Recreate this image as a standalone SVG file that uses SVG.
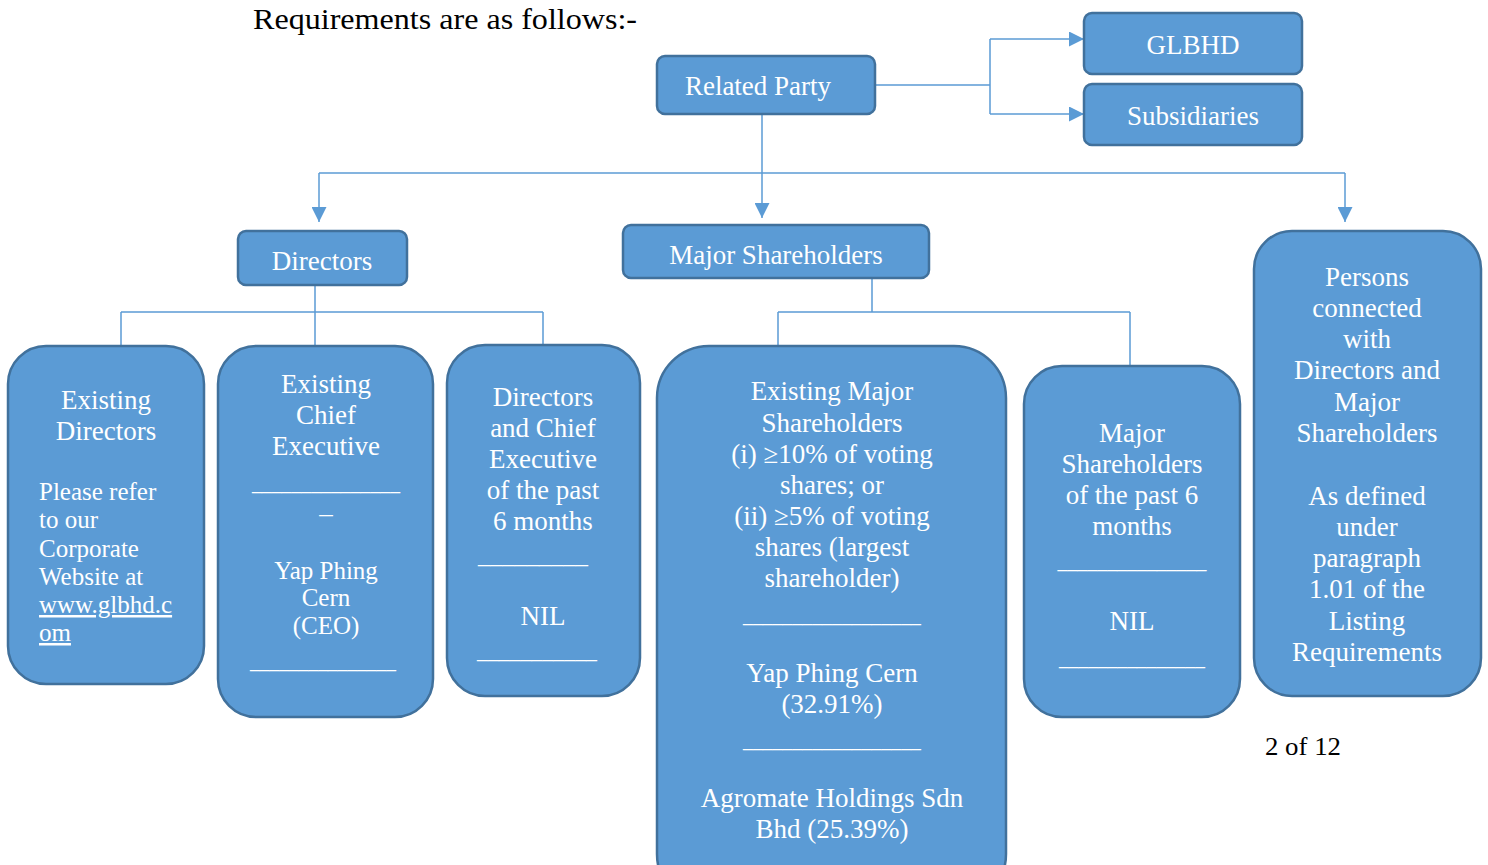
<svg xmlns="http://www.w3.org/2000/svg" width="1488" height="865" viewBox="0 0 1488 865">
<defs>
<marker id="arrB" viewBox="0 0 10 10" refX="10" refY="5" markerWidth="15" markerHeight="15" markerUnits="userSpaceOnUse" orient="auto">
<path d="M0,0 L10,5 L0,10 Z" fill="#5B9BD5"/>
</marker>
</defs>
<style>
.box{fill:#5B9BD5;stroke:#41719C;stroke-width:2.5}
.t{font-family:"Liberation Serif","Times New Roman",serif;font-size:27px;fill:#FFFFFF;text-anchor:middle}
.m{font-family:"Liberation Serif","Times New Roman",serif;font-size:25px;fill:#FFFFFF;text-anchor:middle}
.s{font-family:"Liberation Serif","Times New Roman",serif;font-size:25px;fill:#FFFFFF}
.k{font-family:"Liberation Serif","Times New Roman",serif;fill:#000000}
.c{fill:none;stroke:#5B9BD5;stroke-width:1.5}
</style>
<rect width="1488" height="865" fill="#FFFFFF"/>
<text class="k" x="253" y="29" font-size="30" textLength="384" lengthAdjust="spacingAndGlyphs">Requirements are as follows:-</text>
<text class="k" x="1265" y="755" font-size="26" textLength="76" lengthAdjust="spacingAndGlyphs">2 of 12</text>

<g id="connectors">
<path class="c" d="M875,85 H990 M990,39 V114"/>
<path class="c" d="M990,39 H1084" marker-end="url(#arrB)"/>
<path class="c" d="M990,114 H1084" marker-end="url(#arrB)"/>
<path class="c" d="M762,114 V218" marker-end="url(#arrB)"/>
<path class="c" d="M319,173 H1345"/>
<path class="c" d="M319,173 V222" marker-end="url(#arrB)"/>
<path class="c" d="M1345,173 V222" marker-end="url(#arrB)"/>
<path class="c" d="M315,285 V346 M121,312 H543 M121,312 V347 M543,312 V346"/>
<path class="c" d="M872,278 V312 M778,312 H1130 M778,312 V346 M1130,312 V366"/>
</g>

<g id="related-party">
<rect class="box" x="657" y="56" width="218" height="58" rx="8"/>
<text class="t" x="758" y="95">Related Party</text>
</g>
<g id="glbhd">
<rect class="box" x="1084" y="13" width="218" height="61" rx="8"/>
<text class="t" x="1193" y="54">GLBHD</text>
</g>
<g id="subsidiaries">
<rect class="box" x="1084" y="84" width="218" height="61" rx="8"/>
<text class="t" x="1193" y="125">Subsidiaries</text>
</g>
<g id="directors">
<rect class="box" x="238" y="231" width="169" height="54" rx="8"/>
<text class="t" x="322" y="270">Directors</text>
</g>
<g id="major-shareholders">
<rect class="box" x="623" y="225" width="306" height="53" rx="8"/>
<text class="t" x="776" y="264">Major Shareholders</text>
</g>
<g id="persons-connected">
<rect class="box" x="1254" y="231" width="227" height="465" rx="38"/>
<text class="t" x="1367" y="286">Persons</text>
<text class="t" x="1367" y="317">connected</text>
<text class="t" x="1367" y="348">with</text>
<text class="t" x="1367" y="379">Directors and</text>
<text class="t" x="1367" y="411">Major</text>
<text class="t" x="1367" y="442">Shareholders</text>
<text class="t" x="1367" y="505">As defined</text>
<text class="t" x="1367" y="536">under</text>
<text class="t" x="1367" y="567">paragraph</text>
<text class="t" x="1367" y="598">1.01 of the</text>
<text class="t" x="1367" y="630">Listing</text>
<text class="t" x="1367" y="661">Requirements</text>
</g>
<g id="existing-directors">
<rect class="box" x="8" y="346" width="196" height="338" rx="38"/>
<text class="t" x="106" y="409">Existing</text>
<text class="t" x="106" y="440">Directors</text>
<text class="s" x="39" y="500">Please refer</text>
<text class="s" x="39" y="528">to our</text>
<text class="s" x="39" y="557">Corporate</text>
<text class="s" x="39" y="585">Website at</text>
<text class="s" x="39" y="613" text-decoration="underline">www.glbhd.c</text>
<text class="s" x="39" y="641" text-decoration="underline">om</text>
</g>
<g id="existing-ceo">
<rect class="box" x="218" y="346" width="215" height="371" rx="38"/>
<text class="t" x="326" y="393">Existing</text>
<text class="t" x="326" y="424">Chief</text>
<text class="t" x="326" y="455">Executive</text>
<text class="t" x="326" y="490" textLength="148" lengthAdjust="spacingAndGlyphs">_______________</text>
<text class="t" x="326" y="522">–</text>
<text class="m" x="326" y="579">Yap Phing</text>
<text class="m" x="326" y="606">Cern</text>
<text class="m" x="326" y="634">(CEO)</text>
<text class="t" x="323" y="668" textLength="146" lengthAdjust="spacingAndGlyphs">_______________</text>
</g>
<g id="past-directors-ceo">
<rect class="box" x="447" y="345" width="193" height="351" rx="38"/>
<text class="t" x="543" y="406">Directors</text>
<text class="t" x="543" y="437">and Chief</text>
<text class="t" x="543" y="468">Executive</text>
<text class="t" x="543" y="499">of the past</text>
<text class="t" x="543" y="530">6 months</text>
<text class="t" x="533" y="563" textLength="110" lengthAdjust="spacingAndGlyphs">_________</text>
<text class="t" x="543" y="625">NIL</text>
<text class="t" x="537" y="658" textLength="120" lengthAdjust="spacingAndGlyphs">___________</text>
</g>
<g id="existing-major-shareholders">
<rect class="box" x="657" y="346" width="349" height="560" rx="52"/>
<text class="t" x="832" y="400">Existing Major</text>
<text class="t" x="832" y="432">Shareholders</text>
<text class="t" x="832" y="463">(i) ≥10% of voting</text>
<text class="t" x="832" y="494">shares; or</text>
<text class="t" x="832" y="525">(ii) ≥5% of voting</text>
<text class="t" x="832" y="556">shares (largest</text>
<text class="t" x="832" y="587">shareholder)</text>
<text class="t" x="832" y="622" textLength="178" lengthAdjust="spacingAndGlyphs">__________________</text>
<text class="t" x="832" y="682">Yap Phing Cern</text>
<text class="t" x="832" y="713">(32.91%)</text>
<text class="t" x="832" y="747" textLength="178" lengthAdjust="spacingAndGlyphs">__________________</text>
<text class="t" x="832" y="807">Agromate Holdings Sdn</text>
<text class="t" x="832" y="838">Bhd (25.39%)</text>
</g>
<g id="past-major-shareholders">
<rect class="box" x="1024" y="366" width="216" height="351" rx="38"/>
<text class="t" x="1132" y="442">Major</text>
<text class="t" x="1132" y="473">Shareholders</text>
<text class="t" x="1132" y="504">of the past 6</text>
<text class="t" x="1132" y="535">months</text>
<text class="t" x="1132" y="568" textLength="149" lengthAdjust="spacingAndGlyphs">_______________</text>
<text class="t" x="1132" y="630">NIL</text>
<text class="t" x="1132" y="665" textLength="146" lengthAdjust="spacingAndGlyphs">_______________</text>
</g>
</svg>
